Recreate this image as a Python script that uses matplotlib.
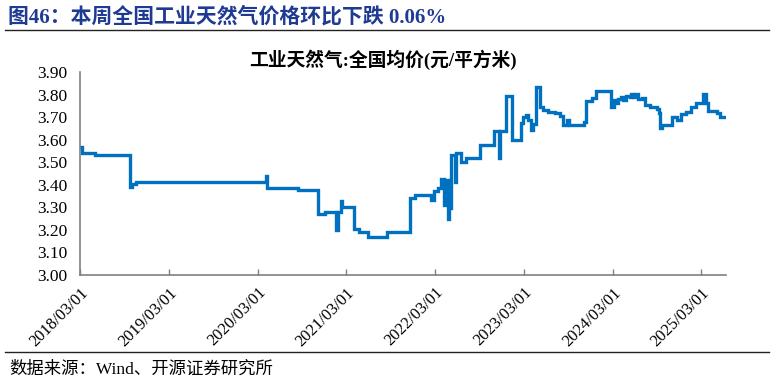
import matplotlib
matplotlib.use("Agg")
import matplotlib.pyplot as plt
import pandas as pd

plt.rcParams['font.family'] = ['Liberation Serif', 'Noto Sans CJK SC']

# price change points (weekly series, value holds until next date)
dates = [
    "2018-03-01", "2018-03-09", "2018-05-01", "2018-09-21", "2018-10-01", "2018-10-19",
    "2020-04-03", "2020-04-10", "2020-08-14", "2020-11-06", "2020-12-04", "2021-01-18",
    "2021-01-25", "2021-02-05", "2021-02-12", "2021-04-02", "2021-04-23", "2021-05-28",
    "2021-08-13", "2021-11-19", "2021-12-10", "2022-02-11", "2022-02-25", "2022-03-11",
    "2022-03-25", "2022-04-08", "2022-04-15", "2022-04-22", "2022-04-29", "2022-05-06",
    "2022-05-20", "2022-05-27", "2022-06-17", "2022-07-08", "2022-09-02", "2022-10-28",
    "2022-11-18", "2022-11-25", "2022-12-16", "2023-01-13", "2023-02-17", "2023-02-24",
    "2023-03-10", "2023-03-17", "2023-03-31", "2023-04-07", "2023-04-21", "2023-05-05",
    "2023-05-19", "2023-06-09", "2023-07-07", "2023-07-28", "2023-08-11", "2023-08-25",
    "2023-09-01", "2023-11-03", "2023-11-10", "2023-12-08", "2023-12-22", "2024-02-23",
    "2024-03-08", "2024-03-15", "2024-03-22", "2024-04-05", "2024-04-12", "2024-04-26",
    "2024-05-10", "2024-05-17", "2024-05-24", "2024-05-31", "2024-06-14", "2024-06-28",
    "2024-07-12", "2024-08-02", "2024-08-30", "2024-09-06", "2024-09-13", "2024-09-20",
    "2024-11-01", "2024-11-22", "2024-12-06", "2024-12-27", "2025-01-17", "2025-02-07",
    "2025-03-07", "2025-03-21", "2025-03-28", "2025-05-02", "2025-05-16", "2025-06-06",
]
prices = [
    3.567, 3.540, 3.533, 3.392, 3.404, 3.414,
    3.441, 3.385, 3.377, 3.271, 3.280, 3.200,
    3.280, 3.330, 3.303, 3.203, 3.192, 3.167,
    3.192, 3.340, 3.355, 3.333, 3.373, 3.385,
    3.425, 3.311, 3.420, 3.247, 3.296, 3.533,
    3.414, 3.540, 3.500, 3.520, 3.577, 3.639,
    3.518, 3.639, 3.796, 3.600, 3.674, 3.703,
    3.712, 3.690, 3.644, 3.670, 3.836, 3.747,
    3.733, 3.725, 3.718, 3.706, 3.666, 3.690,
    3.666, 3.680, 3.774, 3.785, 3.818, 3.747,
    3.777, 3.765, 3.783, 3.790, 3.777, 3.794,
    3.790, 3.804, 3.790, 3.806, 3.780, 3.785,
    3.755, 3.745, 3.736, 3.720, 3.655, 3.666,
    3.700, 3.690, 3.713, 3.724, 3.748, 3.763,
    3.803, 3.766, 3.728, 3.720, 3.703, 3.703,
]
tick_dates = ["2018-03-01", "2019-03-01", "2020-03-01", "2021-03-01",
              "2022-03-01", "2023-03-01", "2024-03-01", "2025-03-01"]
tick_labels = ["2018/03/01", "2019/03/01", "2020/03/01", "2021/03/01",
               "2022/03/01", "2023/03/01", "2024/03/01", "2025/03/01"]
y_ticks = [3.00, 3.10, 3.20, 3.30, 3.40, 3.50, 3.60, 3.70, 3.80, 3.90]

x = pd.to_datetime(dates)

fig = plt.figure(figsize=(7.74, 3.83), dpi=100)
ax = fig.add_axes([0.1034, 0.282, 0.834, 0.529])
ax.plot(x, prices, color="#0070C0", lw=2.4, drawstyle="steps-post", solid_joinstyle="miter")

ax.set_xlim(pd.Timestamp("2018-03-01"), pd.Timestamp("2025-06-08"))
ax.set_ylim(3.0, 3.9)
ax.set_yticks(y_ticks)
ax.set_yticklabels([f"{v:.2f}" for v in y_ticks], fontsize=12.5)
ax.set_xticks(pd.to_datetime(tick_dates))
ax.set_xticklabels(tick_labels, rotation=45, ha="right", va="top",
                   rotation_mode="anchor", fontsize=12)
ax.tick_params(axis="both", direction="in", length=4, color="#808080", width=1)
ax.tick_params(axis="y", length=0, pad=9)
ax.tick_params(axis="x", pad=7)
for side in ["top", "right"]:
    ax.spines[side].set_visible(False)
for side in ["left", "bottom"]:
    ax.spines[side].set_color("#808080")
    ax.spines[side].set_linewidth(1.2)

fig.text(0.495, 0.845, "工业天然气:全国均价(元/平方米)", fontsize=13.5, fontweight="bold",
         ha="center", va="center")

fig.text(0.01, 0.955, "图46：本周全国工业天然气价格环比下跌 0.06%", fontsize=15,
         fontweight="bold", color="#1F3A93", ha="left", va="center")
fig.add_artist(plt.Line2D([0.006, 0.994], [0.922, 0.922], color="#222222", lw=1.0))
fig.add_artist(plt.Line2D([0.006, 0.994], [0.082, 0.082], color="#222222", lw=1.0))
fig.text(0.012, 0.035, "数据来源：Wind、开源证券研究所", fontsize=12.5, ha="left", va="center")

fig.savefig("out.png", dpi=100)
